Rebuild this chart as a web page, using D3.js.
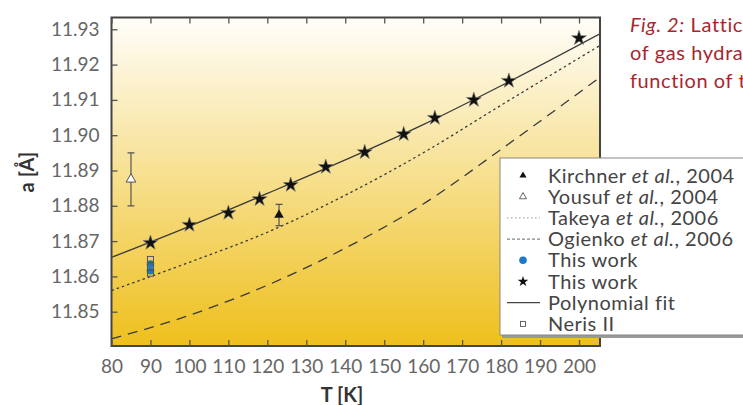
<!DOCTYPE html>
<html><head><meta charset="utf-8">
<script src="https://cdn.jsdelivr.net/npm/d3@7"></script>
<style>body{margin:0;background:#fff;overflow:hidden}svg{display:block;font-family:Lato,"Noto Sans",sans-serif}</style>
</head><body><svg id="c" width="743" height="405"></svg>
<script>
// ---- data ----
const xTicks = [80,90,100,110,120,130,140,150,160,170,180,190,200];
const yTicks = [11.85,11.86,11.87,11.88,11.89,11.90,11.91,11.92,11.93];
const starT = [90,100,110,118,126,135,145,155,163,173,182,200];
const starA = [11.8695,11.8746,11.8780,11.8819,11.8859,11.8910,11.8952,11.9003,11.9049,11.9100,11.9154,11.9275];
const fitT = [80,100,120,140,160,180,205.5];
const fitA = [11.8654,11.8742,11.8835,11.8930,11.9030,11.9140,11.9288];
const takeyaT = [80,100,120,140,160,180,205.5];
const takeyaA = [11.8560,11.8640,11.8725,11.8830,11.8950,11.9085,11.9255];
const ogienkoT = [80,100,120,140,160,180,205.5];
const ogienkoA = [11.8423,11.8490,11.8575,11.8680,11.8805,11.8960,11.9165];
const kirchnerT = [123]; const kirchnerA = [11.8774]; const kirchnerErr = [0.0030];
const yousufT = [85]; const yousufA = [11.8875]; const yousufErr = [0.0075];
const blueT = [90,90]; const blueA = [11.8635,11.8616];
const nerisT = [90,90,90]; const nerisA = [11.8648,11.8627,11.8609];
const legendLabels = [
  ["Kirchner ","et al.",", 2004"],["Yousuf ","et al.",", 2004"],["Takeya ","et al.",", 2006"],
  ["Ogienko ","et al.",", 2006"],["This work","",""],["This work","",""],["Polynomial fit","",""],["Neris II","",""]];
const caption = [["Fig. 2:"," Lattice constant"],["","of gas hydrates as a"],["","function of temperature"]];

// ---- drawing ----
const svg = d3.select("#c");
const L=111.5, R=600, T=17.5, B=346;
const x = d3.scaleLinear().domain([80, 80+(R-L)/3.896]).range([L,R]);
const y = d3.scaleLinear().domain([11.85-(B-311.7)/3530, 11.93+(29.3-T)/3530]).range([B,T]);

const defs = svg.append("defs");
const g = defs.append("linearGradient").attr("id","bg").attr("x1",0).attr("y1",0).attr("x2",0).attr("y2",1);
g.append("stop").attr("offset","0%").attr("stop-color","#fffefa");
g.append("stop").attr("offset","100%").attr("stop-color","#eebf1c");
defs.append("clipPath").attr("id","clip").append("rect").attr("x",L).attr("y",T).attr("width",R-L).attr("height",B-T);

svg.append("rect").attr("x",L).attr("y",T).attr("width",R-L).attr("height",B-T).attr("fill","url(#bg)");

const plot = svg.append("g").attr("clip-path","url(#clip)");
const line = d3.line().x(d=>x(d[0])).y(d=>y(d[1])).curve(d3.curveMonotoneX);
const zip=(a,b)=>a.map((v,i)=>[v,b[i]]);
plot.append("path").attr("d",line(zip(ogienkoT,ogienkoA))).attr("fill","none").attr("stroke","#3a3a3a").attr("stroke-width",1.3).attr("stroke-dasharray","10,7");
plot.append("path").attr("d",line(zip(takeyaT,takeyaA))).attr("fill","none").attr("stroke","#3a3a3a").attr("stroke-width",1.3).attr("stroke-dasharray","2.5,3");
plot.append("path").attr("d",line(zip(fitT,fitA))).attr("fill","none").attr("stroke","#3a3a3a").attr("stroke-width",1.3);

// error bars
function errbar(tArr,aArr,eArr){
  tArr.forEach((t,i)=>{
    const cx=x(t), y1=y(aArr[i]+eArr[i]), y2=y(aArr[i]-eArr[i]);
    plot.append("line").attr("x1",cx).attr("x2",cx).attr("y1",y1).attr("y2",y2).attr("stroke","#555").attr("stroke-width",1.2);
    [y1,y2].forEach(yy=>plot.append("line").attr("x1",cx-3.5).attr("x2",cx+3.5).attr("y1",yy).attr("y2",yy).attr("stroke","#555").attr("stroke-width",1.2));
  });
}
errbar(yousufT,yousufA,yousufErr);
errbar(kirchnerT,kirchnerA,kirchnerErr);

const tri = d3.symbol().type(d3.symbolTriangle).size(40);
plot.selectAll(".kt").data(zip(kirchnerT,kirchnerA)).join("path").attr("d",tri).attr("transform",d=>`translate(${x(d[0])},${y(d[1])})`).attr("fill","#111");
plot.selectAll(".yt").data(zip(yousufT,yousufA)).join("path").attr("d",tri).attr("transform",d=>`translate(${x(d[0])},${y(d[1])})`).attr("fill","#fff").attr("stroke","#555").attr("stroke-width",1);

plot.selectAll(".bc").data(zip(blueT,blueA)).join("circle").attr("cx",d=>x(d[0])).attr("cy",d=>y(d[1])).attr("r",3.8).attr("fill","#1f78c8");
plot.selectAll(".ns").data(zip(nerisT,nerisA)).join("rect").attr("x",d=>x(d[0])-3).attr("y",d=>y(d[1])-3).attr("width",6).attr("height",6).attr("fill","none").attr("stroke","#555").attr("stroke-width",1);

const star = d3.symbol().type(d3.symbolStar).size(70);
plot.selectAll(".st").data(zip(starT,starA)).join("path").attr("d",star).attr("transform",d=>`translate(${x(d[0])},${y(d[1])})`).attr("fill","#111").attr("stroke","#777").attr("stroke-width",0.6);

// frame and axes
svg.append("rect").attr("x",L).attr("y",T).attr("width",R-L).attr("height",B-T).attr("fill","none").attr("stroke","#444").attr("stroke-width",2);
const tickStyle = sel=>{sel.select(".domain").remove(); sel.selectAll(".tick line").attr("stroke","#555").attr("stroke-width",1.3);
  sel.selectAll(".tick text").attr("fill","#666").style("font-size","19px").style("font-family","Lato, 'Noto Sans', sans-serif");};
svg.append("g").attr("transform",`translate(0,${B})`).call(d3.axisBottom(x).tickValues(xTicks).tickFormat(d3.format("d")).tickSizeInner(-6).tickPadding(14)).call(tickStyle);
svg.append("g").attr("transform",`translate(0,${T})`).call(d3.axisTop(x).tickValues(xTicks).tickFormat("").tickSizeInner(-6)).call(tickStyle);
svg.append("g").attr("transform",`translate(${L},0)`).call(d3.axisLeft(y).tickValues(yTicks).tickFormat(d3.format(".2f")).tickSizeInner(-6).tickPadding(12)).call(tickStyle);

svg.append("text").attr("x",342).attr("y",402).attr("text-anchor","middle").attr("fill","#333").style("font-size","20px").style("font-weight","bold").text("T [K]");
svg.append("text").attr("transform","translate(34,172) rotate(-90)").attr("text-anchor","middle").attr("fill","#333").style("font-size","20px").style("font-weight","bold").text("a [Å]");

// legend
const lg = svg.append("g");
lg.append("rect").attr("x",502).attr("y",160).attr("width",260).attr("height",178).attr("fill","#999");
lg.append("rect").attr("x",500).attr("y",158).attr("width",260).attr("height",177).attr("fill","#fff").attr("stroke","#888").attr("stroke-width",1);
const ly = i=>175.5+i*21.2, sx=523, tx=548;
legendLabels.forEach((lab,i)=>{
  const t = lg.append("text").attr("x",tx).attr("y",ly(i)+7).attr("fill","#444").style("font-size","20px").style("letter-spacing","0.5px");
  t.append("tspan").text(lab[0]);
  if(lab[1]) t.append("tspan").style("font-style","italic").text(lab[1]);
  if(lab[2]) t.append("tspan").text(lab[2]);
});
lg.append("path").attr("d",d3.symbol().type(d3.symbolTriangle).size(22)).attr("transform",`translate(${sx},${ly(0)})`).attr("fill","#111");
lg.append("path").attr("d",d3.symbol().type(d3.symbolTriangle).size(22)).attr("transform",`translate(${sx},${ly(1)})`).attr("fill","#fff").attr("stroke","#555").attr("stroke-width",0.9);
lg.append("line").attr("x1",507).attr("x2",540).attr("y1",ly(2)).attr("y2",ly(2)).attr("stroke","#999").attr("stroke-width",1).attr("stroke-dasharray","1.5,2.5");
lg.append("line").attr("x1",507).attr("x2",540).attr("y1",ly(3)).attr("y2",ly(3)).attr("stroke","#666").attr("stroke-width",1).attr("stroke-dasharray","3,2");
lg.append("circle").attr("cx",sx).attr("cy",ly(4)).attr("r",3.8).attr("fill","#1f78c8");
lg.append("path").attr("d",d3.symbol().type(d3.symbolStar).size(35)).attr("transform",`translate(${sx},${ly(5)})`).attr("fill","#111");
lg.append("line").attr("x1",507).attr("x2",540).attr("y1",ly(6)).attr("y2",ly(6)).attr("stroke","#444").attr("stroke-width",1.2);
lg.append("rect").attr("x",sx-2.5).attr("y",ly(7)-2.5).attr("width",5).attr("height",5).attr("fill","none").attr("stroke","#555").attr("stroke-width",0.9);

// caption
caption.forEach((c,i)=>{
  const t = svg.append("text").attr("x",630).attr("y",32+i*28).attr("fill","#a8262f").style("font-size","20px").style("letter-spacing","0.6px");
  if(c[0]) t.append("tspan").style("font-style","italic").text(c[0]);
  t.append("tspan").text(c[1]);
});
</script></body></html>
